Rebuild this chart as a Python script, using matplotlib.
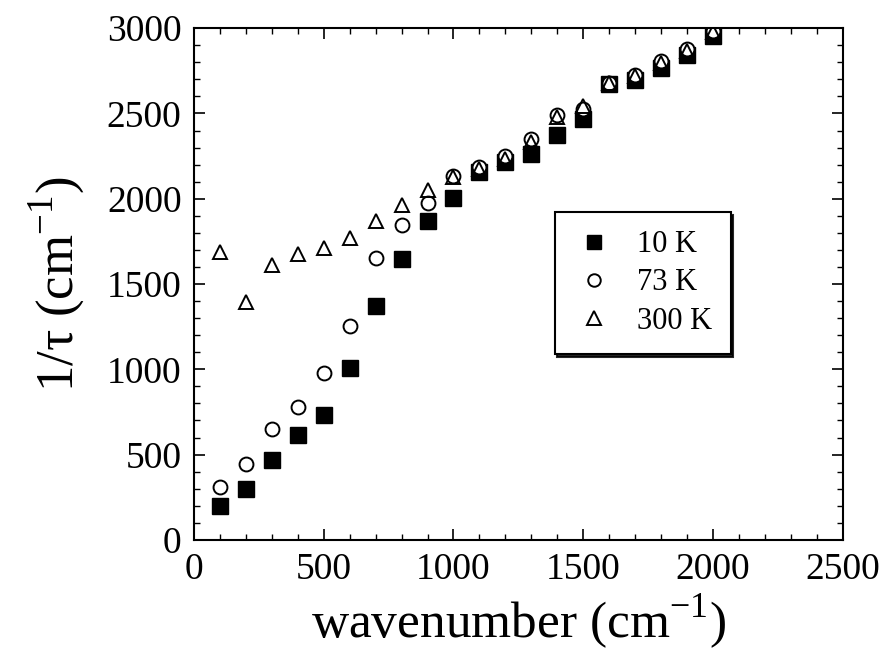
import numpy as np
import matplotlib
matplotlib.use("Agg")
import matplotlib.pyplot as plt
from matplotlib.ticker import MultipleLocator

plt.rcParams["font.family"] = ["Liberation Serif", "DejaVu Serif"]
plt.rcParams["mathtext.fontset"] = "custom"
plt.rcParams["mathtext.rm"] = "Liberation Serif"

# 数据
wavenumber = [100, 200, 300, 400, 500, 600, 700, 800, 900, 1000,
              1100, 1200, 1300, 1400, 1500, 1600, 1700, 1800, 1900, 2000]
rate_10K = [200, 298, 470, 617, 735, 1005, 1372, 1647, 1872, 2005,
            2159, 2218, 2265, 2376, 2470, 2670, 2696, 2765, 2841, 2953]
rate_73K = [308, 445, 651, 778, 980, 1255, 1651, 1847, 1976, 2133,
            2185, 2248, 2353, 2490, 2525, 2680, 2725, 2806, 2878, 2984]
rate_300K = [1690, 1396, 1612, 1676, 1712, 1769, 1870, 1965, 2049, 2125,
             2175, 2232, 2335, 2478, 2545, 2676, 2720, 2795, 2868, 2975]
labels = ["10 K", "73 K", "300 K"]

fig = plt.figure(figsize=(8.86, 6.56), dpi=100)
ax = fig.add_axes([0.219, 0.177, 0.732, 0.780])

ax.plot(wavenumber, rate_10K, "s", ms=11.5, color="black", mec="black", label=labels[0])
ax.plot(wavenumber, rate_73K, "o", ms=10, mfc="white", mec="black", mew=1.4, label=labels[1])
ax.plot(wavenumber, rate_300K, "^", ms=10.5, mfc="none", mec="black", mew=1.4, label=labels[2])

ax.set_xlim(0, 2500)
ax.set_ylim(0, 3000)
ax.xaxis.set_major_locator(MultipleLocator(500))
ax.xaxis.set_minor_locator(MultipleLocator(100))
ax.yaxis.set_major_locator(MultipleLocator(500))
ax.yaxis.set_minor_locator(MultipleLocator(100))
ax.tick_params(which="both", direction="in", top=True, right=True, labelsize=27, pad=9)
ax.tick_params(which="major", length=8, width=1.2)
ax.tick_params(which="minor", length=4, width=1.0)
for sp in ax.spines.values():
    sp.set_linewidth(1.5)

ax.set_xlabel(r"wavenumber (cm$^{\mathregular{-1}}$)", fontsize=37, labelpad=4)
ax.set_ylabel(r"1/τ (cm$^{\mathregular{-1}}$)", fontsize=38, labelpad=14)

leg = ax.legend(loc="upper left", bbox_to_anchor=(0.556, 0.641), borderaxespad=0,
                fontsize=22, frameon=True, fancybox=False,
                shadow={"color": "black", "alpha": 0.85}, markerscale=0.9,
                handletextpad=0.7, labelspacing=0.3, borderpad=0.6, handlelength=1.4)
leg.get_frame().set_edgecolor("black")
leg.get_frame().set_linewidth(1.5)

plt.savefig("out.png", dpi=100)
